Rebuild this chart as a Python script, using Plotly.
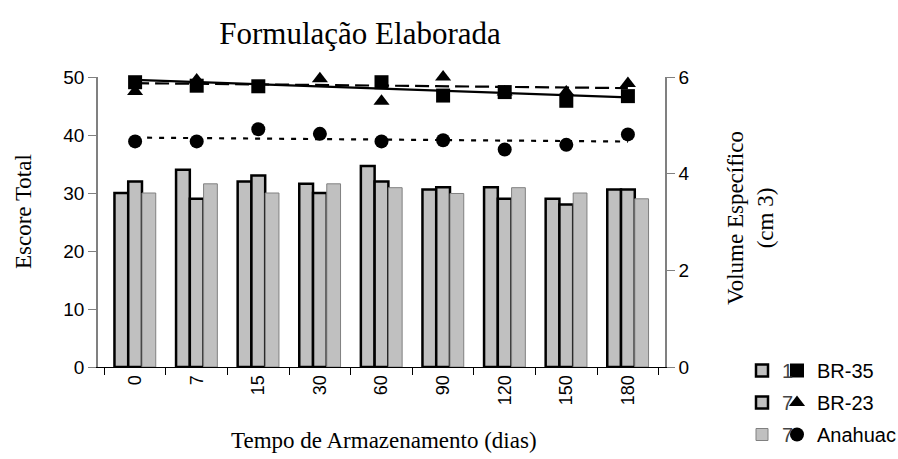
import numpy as np
import plotly.graph_objects as go

# ---- data ----
days = ["0", "7", "15", "30", "60", "90", "120", "150", "180"]

# Escore total (left axis) – markers
escore_br35 = [49.1, 48.5, 48.4, 50.1, 49.1, 46.8, 47.4, 45.9, 46.7]
escore_br23 = [47.5, 49.5, 50.4, 49.7, 45.8, 50.0, 47.4, 47.4, 48.9]
escore_anahuac = [38.9, 38.9, 41.0, 40.2, 38.9, 39.1, 37.5, 38.3, 40.1]

# Volume específico (right axis) – bars
vol_s1 = [3.60, 4.08, 3.84, 3.79, 4.16, 3.67, 3.72, 3.48, 3.67]
vol_s2 = [3.84, 3.48, 3.96, 3.60, 3.84, 3.72, 3.48, 3.36, 3.67]
vol_s3 = [3.60, 3.79, 3.60, 3.79, 3.71, 3.59, 3.71, 3.60, 3.48]

bar_names = ["1", "7", "7"]
marker_names = ["BR-35", "BR-23", "Anahuac"]

left_ticks = [0, 10, 20, 30, 40, 50]
right_ticks = [0, 2, 4, 6]

W, H = 898, 459
ML, MR, MT, MB = 98, 233, 77, 92
PW, PH = W - ML - MR, H - MT - MB


def px_x(px):
    return (px - ML) / PW


def px_y(py):
    return (H - MB - py) / PH


fig = go.Figure()

bar_lines = [dict(color="black", width=2.5), dict(color="black", width=2.5), dict(color="#808080", width=1)]
for i, (name, vals, ln) in enumerate(zip(bar_names, [vol_s1, vol_s2, vol_s3], bar_lines)):
    fig.add_trace(go.Bar(x=days, y=vals, name=name, yaxis="y2",
                         marker=dict(color="#C0C0C0", line=ln),
                         legend="legend2", legendgroup="b%d" % i, legendrank=i + 1))

# trendlines (linear fits over category index)
idx = np.arange(len(days))
for vals, dash in zip([escore_br35, escore_br23, escore_anahuac], ["solid", "14px,6px", "5px,7px"]):
    m, b = np.polyfit(idx, vals, 1)
    fig.add_trace(go.Scatter(x=days, y=m * idx + b, mode="lines",
                             line=dict(color="black", width=2.2, dash=dash),
                             showlegend=False, hoverinfo="skip", cliponaxis=False))

# draw triangles first so squares sit on top (as in the reference)
series = list(zip(marker_names, [escore_br35, escore_br23, escore_anahuac],
                  ["square", "triangle-up", "circle"], [1, 2, 3]))
for name, vals, sym, rank in [series[1], series[0], series[2]]:
    fig.add_trace(go.Scatter(x=days, y=vals, mode="markers", name=name,
                             marker=dict(color="black", size=14, symbol=sym),
                             cliponaxis=False, legendrank=rank,
                             legend="legend", legendgroup="m%d" % rank))

ytick_font = dict(family="Liberation Sans, Arial", size=19, color="black")
xtick_font = dict(family="Liberation Sans, Arial", size=18, color="black")
serif = "Liberation Serif, Times New Roman"

leg_top = 1 - 351 / H
fig.update_layout(
    width=W, height=H,
    margin=dict(l=ML, r=MR, t=MT, b=MB, autoexpand=False),
    paper_bgcolor="white", plot_bgcolor="white",
    barmode="group", bargap=0.33, bargroupgap=0,
    showlegend=True,
    title=dict(text="Formulação Elaborada", x=360 / W, xref="container", xanchor="center",
               y=1 - 33 / H, yanchor="middle",
               font=dict(family=serif, size=31, color="black")),
    xaxis=dict(type="category", tickangle=-90, tickfont=xtick_font, automargin=False,
               showline=True, linecolor="black", linewidth=1,
               ticks="outside", ticklen=7, tickcolor="black", tickson="boundaries",
               showgrid=False, zeroline=False),
    yaxis=dict(range=[0, 50], tickvals=left_ticks, tickfont=ytick_font, automargin=False,
               showline=True, linecolor="#808080", linewidth=1.5,
               ticks="outside", ticklen=8, tickcolor="#808080",
               showgrid=False, zeroline=False),
    yaxis2=dict(range=[0, 6], tickvals=right_ticks, tickfont=ytick_font, automargin=False,
                overlaying="y", side="right",
                showline=True, linecolor="#808080", linewidth=1.5,
                ticks="outside", ticklen=8, tickcolor="#808080",
                showgrid=False, zeroline=False),
    legend=dict(x=777 / W, y=leg_top, xref="container", yref="container",
                xanchor="left", yanchor="top",
                font=dict(family="Liberation Sans, Arial", size=20, color="black"),
                bgcolor="white", itemwidth=30, tracegroupgap=3, traceorder="grouped"),
    legend2=dict(x=742 / W, y=leg_top, xref="container", yref="container",
                 xanchor="left", yanchor="top",
                 font=dict(family="Liberation Sans, Arial", size=20, color="#444444"),
                 bgcolor="rgba(0,0,0,0)", itemwidth=30, tracegroupgap=3, traceorder="grouped"),
    annotations=[
        dict(text="Escore Total", x=px_x(23), xref="paper", y=px_y(212), yref="paper",
             xanchor="center", yanchor="middle", showarrow=False, textangle=-90,
             font=dict(family=serif, size=23, color="black")),
        dict(text="Tempo de Armazenamento (dias)", x=px_x(384), xref="paper",
             y=px_y(440), yref="paper",
             xanchor="center", yanchor="middle", showarrow=False,
             font=dict(family=serif, size=23, color="black")),
        dict(text="Volume Específico<br>(cm 3)", x=px_x(750), xref="paper", y=px_y(218),
             yref="paper", xanchor="center", yanchor="middle", showarrow=False, textangle=-90,
             font=dict(family=serif, size=23, color="black")),
    ],
)

fig.write_html("out.html", config={"displayModeBar": False},
               post_script="document.body.style.margin='0px';document.body.style.overflow='hidden';")
